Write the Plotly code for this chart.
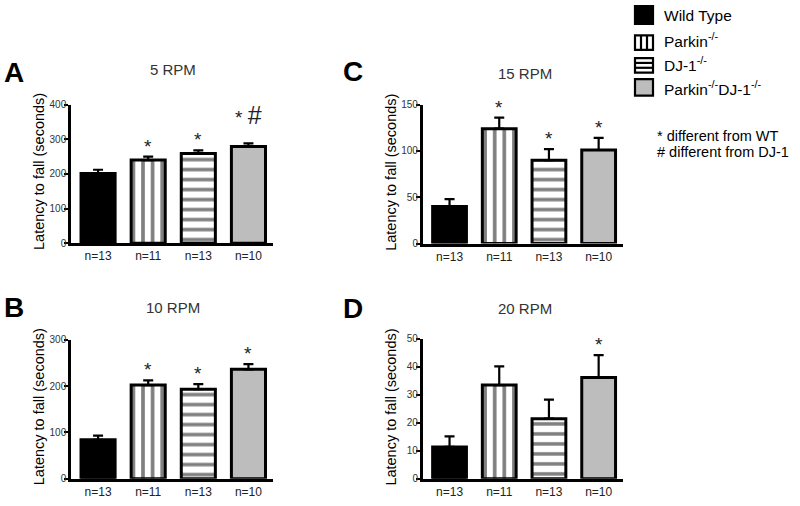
import plotly.graph_objects as go

groups = ["Wild Type", "Parkin<sup>-/-</sup>", "DJ-1<sup>-/-</sup>", "Parkin<sup>-/-</sup>DJ-1<sup>-/-</sup>"]
n_labels = ["n=13", "n=11", "n=13", "n=10"]

panel_letters = ["A", "B", "C", "D"]
panel_titles = ["5 RPM", "10 RPM", "15 RPM", "20 RPM"]
y_max = [400, 300, 150, 50]
y_dtick = [100, 100, 50, 10]

means_5 = [201, 240, 259, 279]
sem_5 = [11, 10, 9, 9]
means_10 = [84, 202, 193, 236]
sem_10 = [9, 10, 11, 11]
means_15 = [40, 124, 90, 101]
sem_15 = [8, 12, 12, 13]
means_20 = [11.4, 33.5, 21.5, 36.2]
sem_20 = [3.8, 6.7, 6.8, 8.0]

sig_5 = ["", "*", "*", "* #"]
sig_10 = ["", "*", "*", "*"]
sig_15 = ["", "*", "*", "*"]
sig_20 = ["", "", "", "*"]

footnotes = ["* different from WT", "# different from DJ-1"]

means = [means_5, means_10, means_15, means_20]
sems = [sem_5, sem_10, sem_15, sem_20]
sigs = [sig_5, sig_10, sig_15, sig_20]

W, H = 800, 506
# plot areas in pixels: (x0, x1, ytop, ybottom)
areas = [(71, 273, 101, 243), (71, 273, 341.7, 484.3),
         (422.7, 623, 101, 243.3), (422.7, 623, 341, 484.3)]
title_pos = [(173, 65), (173, 309), (525, 69), (525, 310)]
letter_pos = [(1.5, 68), (1.5, 309), (341, 67.5), (341, 310)]

fills = ["black", "white", "white", "#bdbdbd"]
patterns = [
    dict(shape=""),
    dict(shape="|", size=9.6, solidity=0.38, fgcolor="black", bgcolor="white", fillmode="overlay"),
    dict(shape="-", size=10, solidity=0.35, fgcolor="black", bgcolor="white", fillmode="overlay"),
    dict(shape=""),
]

fig = go.Figure()
font_family = "Liberation Sans, Arial, sans-serif"
annotations = []
shapes = []

for p in range(4):
    x0, x1, yt, yb = areas[p]
    ax = "" if p == 0 else str(p + 1)
    for g in range(4):
        fig.add_trace(go.Bar(
            x=[g], y=[means[p][g]], width=0.68,
            name=groups[g], legendgroup=groups[g], showlegend=False,
            marker=dict(color=fills[g], pattern=patterns[g],
                        line=dict(color="black", width=3)),
            error_y=dict(type="data", symmetric=False, array=[sems[p][g]], arrayminus=[0],
                         color="black", thickness=2.2, width=5),
            xaxis="x" + ax, yaxis="y" + ax,
        ))
        s = sigs[p][g]
        if s:
            big = "#" in s
            txt = s.replace("#", "<span style='font-size:25px'>#</span>")
            annotations.append(dict(
                x=g, y=means[p][g] + sems[p][g], xref="x" + ax, yref="y" + ax,
                text=txt, showarrow=False, yanchor="bottom", xanchor="center",
                yshift=12 if big else -2, font=dict(size=19, color="#222", family=font_family)))
    fig.layout["xaxis" + ax] = dict(
        domain=[x0 / W, x1 / W], range=[-0.54, 3.49], anchor="y" + ax,
        tickvals=[0, 1, 2, 3], ticktext=n_labels, showline=True, linecolor="black",
        linewidth=2.5, ticks="", showgrid=False, zeroline=False,
        tickfont=dict(size=12, color="#222", family=font_family), fixedrange=True)
    fig.layout["yaxis" + ax] = dict(
        domain=[1 - yb / H, 1 - yt / H], range=[0, y_max[p]], dtick=y_dtick[p], anchor="x" + ax,
        showline=True, linecolor="black", linewidth=2.5, ticks="outside", ticklen=4,
        tickwidth=2, tickcolor="black", showgrid=False, zeroline=False, ticklabelstandoff=-4,
        tickfont=dict(size=10, color="#333", family=font_family))
    tx, ty = title_pos[p]
    annotations.append(dict(x=tx / W, y=1 - ty / H, xref="paper", yref="paper", text=panel_titles[p],
                            showarrow=False, font=dict(size=15, color="#333", family=font_family),
                            xanchor="center", yanchor="middle"))
    lx, ly = letter_pos[p]
    annotations.append(dict(x=lx / W, y=1 - ly / H, xref="paper", yref="paper",
                            text="<b>" + panel_letters[p] + "</b>", showarrow=False,
                            font=dict(size=28, color="black", family=font_family),
                            xanchor="left", yanchor="middle"))
    annotations.append(dict(x=(x0 - 32) / W, y=1 - ((yt + yb) / 2 - 2) / H, xref="paper", yref="paper",
                            text="Latency to fall (seconds)", textangle=-90, showarrow=False,
                            font=dict(size=14.5, color="black", family=font_family),
                            xanchor="center", yanchor="middle"))

# manual legend (boxes + labels)
leg_boxes = [(0, 18.3), (30, 45), (53.3, 68.3), (75, 91.7)]
leg_text_y = [10, 35, 59, 84]
bx0, bx1 = 635, 653
for g in range(4):
    t, b = leg_boxes[g]
    shapes.append(dict(type="rect", xref="paper", yref="paper", x0=bx0 / W, x1=bx1 / W,
                       y0=1 - b / H, y1=1 - t / H, fillcolor=fills[g],
                       line=dict(color="black", width=2.2)))
    if patterns[g]["shape"] == "|":
        for k in (1, 2):
            xx = bx0 + (bx1 - bx0) * k / 3
            shapes.append(dict(type="line", xref="paper", yref="paper", x0=xx / W, x1=xx / W,
                               y0=1 - b / H, y1=1 - t / H, line=dict(color="black", width=2.2)))
    if patterns[g]["shape"] == "-":
        for k in (1, 2):
            yy = t + (b - t) * k / 3
            shapes.append(dict(type="line", xref="paper", yref="paper", x0=bx0 / W, x1=bx1 / W,
                               y0=1 - yy / H, y1=1 - yy / H, line=dict(color="black", width=2.2)))
    annotations.append(dict(x=662 / W, y=1 - leg_text_y[g] / H, xref="paper", yref="paper",
                            text=groups[g], showarrow=False, xanchor="left", yanchor="middle",
                            font=dict(size=15.5, color="black", family=font_family)))

for i, t in enumerate(footnotes):
    annotations.append(dict(x=655 / W, y=1 - (133 + 17 * i) / H, xref="paper", yref="paper",
                            text=t, showarrow=False, xanchor="left", yanchor="middle",
                            font=dict(size=14.5, color="black", family=font_family)))

fig.update_layout(
    width=W, height=H, margin=dict(l=0, r=0, t=0, b=0),
    paper_bgcolor="white", plot_bgcolor="white",
    annotations=annotations, shapes=shapes, barmode="overlay", showlegend=False,
)

fig.write_html("out.html", config={"displayModeBar": False},
               post_script="document.body.style.margin='0px';document.body.style.overflow='hidden';")
